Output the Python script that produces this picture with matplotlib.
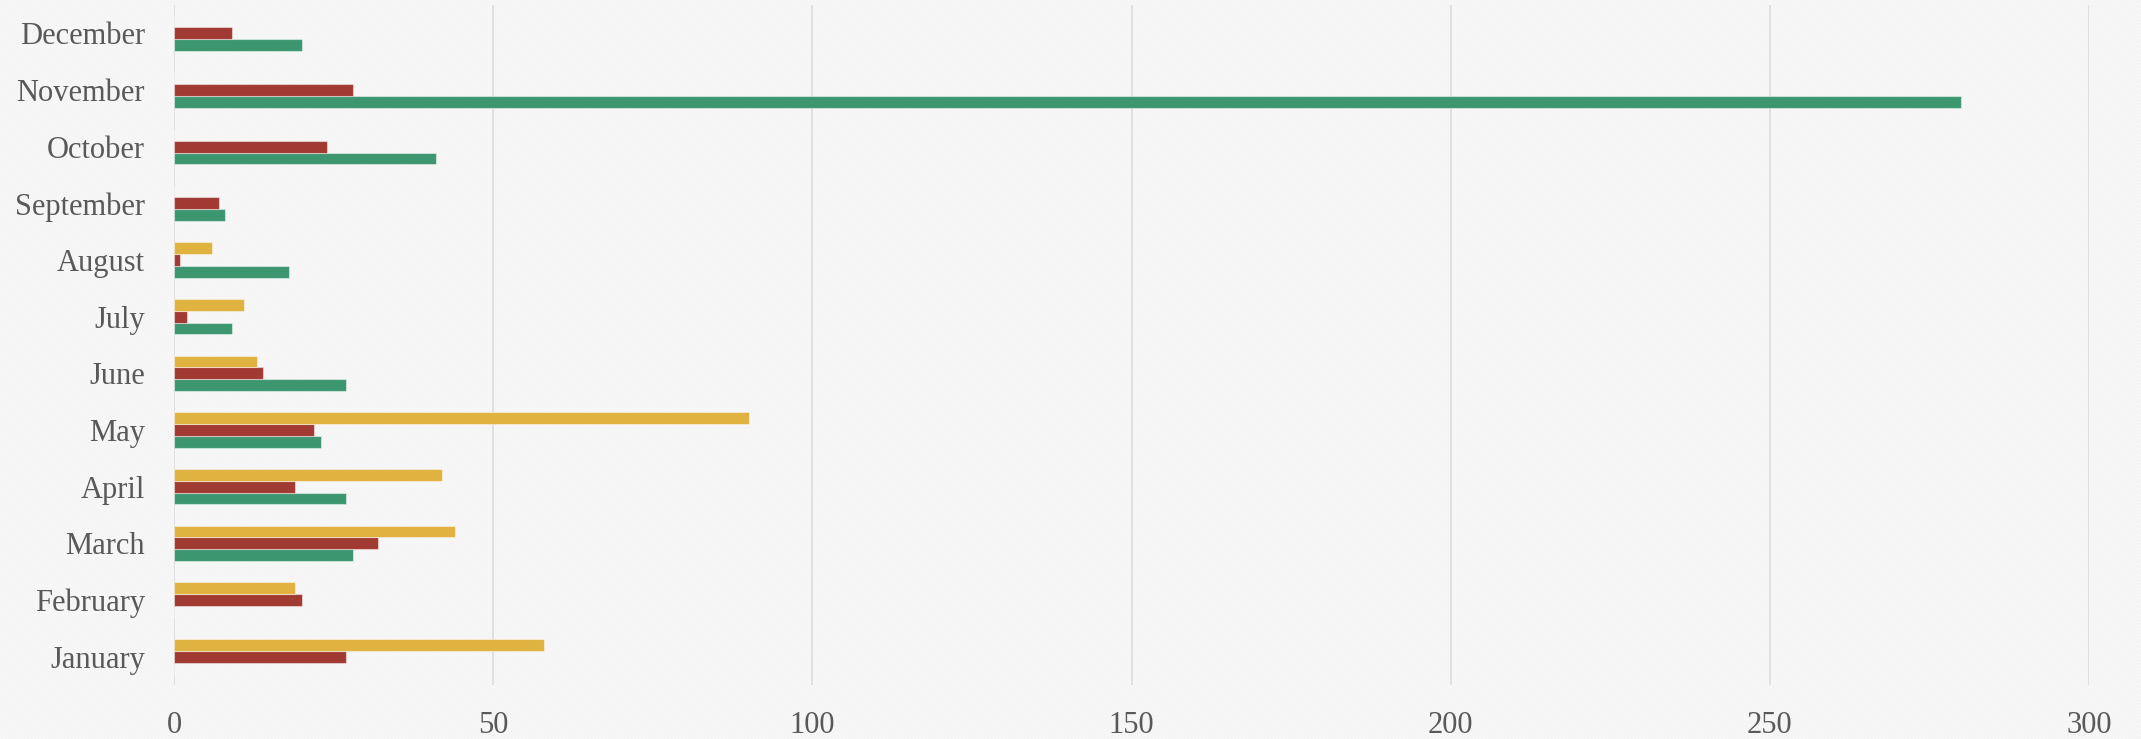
import numpy as np
import matplotlib.pyplot as plt
from matplotlib.patches import Rectangle

# Monthly counts for the three series (bottom to top within each month)
months = ['January', 'February', 'March', 'April', 'May', 'June',
          'July', 'August', 'September', 'October', 'November', 'December']
green_values = [0, 0, 28, 27, 23, 27, 9, 18, 8, 41, 280, 20]
red_values = [27, 20, 32, 19, 22, 14, 2, 1, 7, 24, 28, 9]
yellow_values = [58, 19, 44, 42, 90, 13, 11, 6, 0, 0, 0, 0]
x_ticks = [0, 50, 100, 150, 200, 250, 300]

colors = {'green': '#3c9771', 'red': '#a13a32', 'yellow': '#e0b240'}
text_color = '#595959'
grid_color = '#d9d9d9'
background = '#f9f9f9'

plt.rcParams['font.family'] = ['Liberation Serif', 'DejaVu Serif']
plt.rcParams['hatch.linewidth'] = 0.5

fig = plt.figure(figsize=(21.41, 7.39), dpi=100)
fig.patch.set_facecolor(background)

# Faint woven texture behind the chart, on its own axes
bg_ax = fig.add_axes([0, 0, 1, 1], zorder=-1)
bg_ax.axis('off')
bg_ax.add_patch(Rectangle((0, 0), 1, 1, transform=bg_ax.transAxes,
                          facecolor=background, edgecolor='#f0f0f0',
                          linewidth=0, hatch='\\' * 10))

ax = fig.add_axes([0.0813, 0.0731, 0.8944, 0.9201], zorder=1)
ax.set_facecolor('none')

y = np.arange(len(months))
bar_h = 0.207
edge = (1, 1, 1, 0.45)

ax.barh(y - bar_h, green_values, height=bar_h, color=colors['green'],
        edgecolor=edge, linewidth=0.8, zorder=3)
ax.barh(y, red_values, height=bar_h, color=colors['red'],
        edgecolor=edge, linewidth=0.8, zorder=3)
ax.barh(y + bar_h, yellow_values, height=bar_h, color=colors['yellow'],
        edgecolor=edge, linewidth=0.8, zorder=3)

ax.set_xlim(0, 300)
ax.set_ylim(-0.5, len(months) - 0.5)
ax.set_xticks(x_ticks)
ax.set_xticklabels([str(t) for t in x_ticks])
ax.set_yticks(y)
ax.set_yticklabels(months)

ax.grid(axis='x', color=grid_color, linewidth=1.1, zorder=1)
ax.set_axisbelow(True)
for spine in ax.spines.values():
    spine.set_visible(False)

ax.tick_params(axis='both', length=0, labelsize=22, labelcolor=text_color)
ax.tick_params(axis='x', pad=19)
ax.tick_params(axis='y', pad=21)

fig.savefig('out.png', dpi=100, facecolor=fig.get_facecolor())
